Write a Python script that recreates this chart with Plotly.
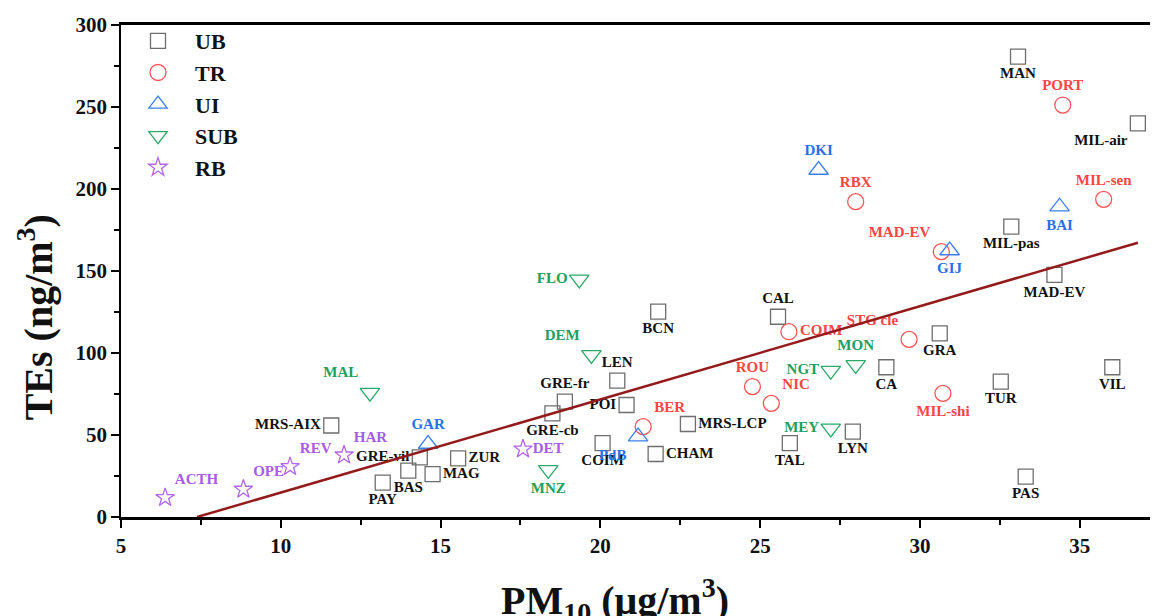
import plotly.graph_objects as go

# ---------------- data ----------------
ub_names = ["MAN", "MIL-air", "MIL-pas", "MAD-EV", "CAL", "GRA", "CA", "VIL", "TUR", "LYN",
            "TAL", "PAS", "BCN", "LEN", "GRE-fr", "GRE-cb", "POI", "MRS-LCP", "COIM", "CHAM",
            "MRS-AIX", "GRE-vil", "ZUR", "BAS", "MAG", "PAY"]
ub_x = [33.07, 36.82, 32.86, 34.21, 25.56, 30.62, 28.95, 36.02, 32.53, 27.90,
        25.93, 33.31, 21.81, 20.53, 18.89, 18.50, 20.82, 22.74, 20.07, 21.73,
        11.58, 14.35, 15.55, 13.99, 14.75, 13.19]
ub_y = [280.7, 240.0, 177.0, 147.6, 122.1, 112.0, 91.3, 91.3, 82.5, 52.0,
        45.0, 24.6, 125.2, 83.1, 70.3, 63.2, 68.3, 56.7, 45.0, 38.4,
        55.8, 36.4, 35.8, 28.3, 26.2, 20.9]

tr_names = ["PORT", "RBX", "MIL-sen", "MAD-EV", "COIM", "STG cle", "ROU", "NIC", "MIL-shi", "BER"]
tr_x = [34.47, 27.99, 35.75, 30.67, 25.90, 29.66, 24.76, 25.35, 30.72, 21.34]
tr_y = [251.2, 192.3, 193.7, 161.8, 113.0, 108.3, 79.5, 69.3, 75.4, 55.1]

ui_names = ["DKI", "BAI", "GIJ", "GAR", "PdB"]
ui_x = [26.83, 34.37, 30.93, 14.61, 21.18]
ui_y = [211.6, 189.2, 162.5, 44.5, 49.0]

sub_names = ["FLO", "DEM", "MAL", "NGT", "MON", "MEY", "MNZ"]
sub_x = [19.34, 19.72, 12.79, 27.21, 27.99, 27.21, 18.37]
sub_y = [144.9, 98.8, 75.8, 89.2, 92.7, 54.0, 28.7]

rb_names = ["ACTH", "OPE", "REV", "HAR", "DET"]
rb_x = [6.38, 8.83, 10.29, 11.98, 17.58]
rb_y = [11.8, 16.9, 30.7, 37.8, 41.4]

# linear fit shown on the chart
fit_slope = 5.68
fit_intercept = -41.9
fit_x_range = [7.38, 36.82]

x_tick_vals = [5, 10, 15, 20, 25, 30, 35]
y_tick_vals = [0, 50, 100, 150, 200, 250, 300]

# ---------------- label placement (style) ----------------
label_pos = {
    "UB": ["bottom center", "bottom left", "bottom center", "bottom center", "top center",
           "bottom center", "bottom center", "bottom center", "bottom center", "bottom center",
           "bottom center", "bottom center", "bottom center", "top center", "top center",
           "bottom center", "middle left", "middle right", "bottom center", "middle right",
           "middle left", "middle left", "middle right", "bottom center", "middle right",
           "bottom center"],
    "TR": ["top center", "top center", "top center", "top left", "middle right",
           "top left", "top center", "top right", "bottom center", "top right"],
    "UI": ["top center", "bottom center", "bottom center", "top center", "bottom left"],
    "SUB": ["middle left", "top left", "top left", "middle left", "top center",
            "middle left", "bottom center"],
    "RB": ["top right", "top right", "top right", "top right", "middle right"],
}

FONT = "Liberation Serif"
series = [
    ("UB", ub_names, ub_x, ub_y, "square-open", "#6e6e6e", "#111111", 15),
    ("TR", tr_names, tr_x, tr_y, "circle-open", "#ff5555", "#ff4444", 16),
    ("UI", ui_names, ui_x, ui_y, "triangle-up-open", "#3a7ff0", "#2a6fe8", 17),
    ("SUB", sub_names, sub_x, sub_y, "triangle-down-open", "#2aaa66", "#20a060", 17),
    ("RB", rb_names, rb_x, rb_y, "star-open", "#b266ee", "#a85ae8", 14),
]

fig = go.Figure()
for name, labels, xs, ys, sym, mcol, tcol, size in series:
    fig.add_trace(go.Scatter(
        x=xs, y=ys, mode="markers+text", name=name, text=labels,
        textposition=label_pos[name],
        textfont=dict(family=FONT, size=15, color=tcol, weight="bold"),
        marker=dict(symbol=sym, size=size, color=mcol, line=dict(width=1.3, color=mcol)),
        cliponaxis=False,
    ))

fit_x = list(fit_x_range)
fit_y = [fit_slope * v + fit_intercept for v in fit_x]
fig.add_trace(go.Scatter(x=fit_x, y=fit_y, mode="lines", showlegend=False,
                         line=dict(color="#931a1a", width=2.5), hoverinfo="skip"))

axis_font = dict(family=FONT, size=21, color="#111111", weight="bold")
title_font = dict(family=FONT, size=40, color="#111111", weight="bold")
fig.update_layout(
    width=1153, height=616,
    margin=dict(l=121, r=3, t=25, b=99),
    plot_bgcolor="white", paper_bgcolor="white",
    showlegend=True,
    legend=dict(x=0.0, y=1.01, xanchor="left", yanchor="top",
                bgcolor="rgba(0,0,0,0)", borderwidth=0, itemwidth=64,
                font=dict(family=FONT, size=22, color="#111111", weight="bold"),
                tracegroupgap=0),
    xaxis=dict(range=[5, 37.2], tickvals=x_tick_vals, showgrid=False, zeroline=False,
               automargin=False,
               showline=True, linecolor="black", linewidth=2.5, mirror=True,
               ticks="outside", ticklen=8, tickwidth=1.5, tickcolor="black",
               minor=dict(dtick=2.5, ticks="outside", ticklen=5, tickwidth=1.5, tickcolor="black", showgrid=False),
               tickfont=axis_font),
    yaxis=dict(range=[0, 300], tickvals=y_tick_vals, showgrid=False, zeroline=False,
               automargin=False,
               showline=True, linecolor="black", linewidth=1.5,
               ticks="outside", ticklen=8, tickwidth=1.5, tickcolor="black",
               minor=dict(dtick=25, ticks="outside", ticklen=5, tickwidth=1.5, tickcolor="black", showgrid=False),
               tickfont=axis_font),
    annotations=[
        dict(text="PM<sub>10</sub> (μg/m<sup>3</sup>)", xref="paper", yref="paper",
             x=0.48, y=-0.168, xanchor="center", yanchor="middle", showarrow=False,
             font=title_font),
        dict(text="TEs (ng/m<sup>3</sup>)", xref="paper", yref="paper",
             x=-0.083, y=0.405, xanchor="center", yanchor="middle", showarrow=False,
             textangle=-90, font=title_font),
    ],
)

fig.write_html("out.html", config={"displayModeBar": False},
               post_script="document.body.style.margin='0';")
